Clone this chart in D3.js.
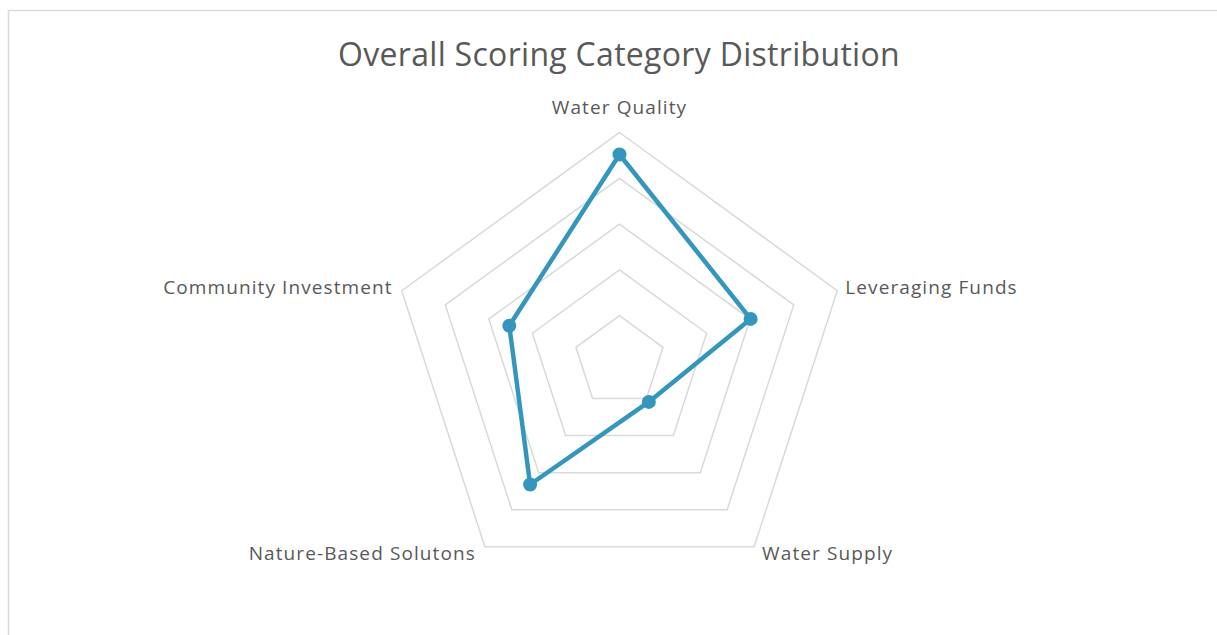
<!DOCTYPE html>
<html lang="en">
<head>
   <meta charset="UTF-8">
   <title>Radar Chart</title>
   <style>
      body {
         margin: 0;
         background: #fff;
      }

      text {
         font-family: 'Open Sans', sans-serif;
         fill: #595959;
      }
   </style>
   <script src="https://cdn.jsdelivr.net/npm/d3@7"></script>
</head>
<body>
   <svg id="chart"></svg>
   <script>
      // data
      const categories = ['Water Quality', 'Leveraging Funds', 'Water Supply', 'Nature-Based Solutons', 'Community Investment']
      const scores = [4.52, 3.01, 1.09, 3.32, 2.53]
      const ringLevels = [1, 2, 3, 4, 5]

      const W = 1217
      const H = 635
      const center = { x: 619.5, y: 361.5 }
      const RADIUS = 229

      const svg = d3.select('#chart')
         .attr('width', W)
         .attr('height', H)

      // frame
      svg.append('rect')
         .attr('x', 8.5)
         .attr('y', 10.5)
         .attr('width', W + 20)
         .attr('height', H + 20)
         .attr('fill', 'none')
         .attr('stroke', '#d9d9d9')
         .attr('stroke-width', 1.5)

      svg.append('text')
         .attr('x', 619)
         .attr('y', 66)
         .attr('text-anchor', 'middle')
         .style('font-size', '32px')
         .style('letter-spacing', '0.3px')
         .text('Overall Scoring Category Distribution')

      const rScale = d3.scaleLinear()
         .domain([0, d3.max(ringLevels)])
         .range([0, RADIUS])

      const angle = d3.scaleBand()
         .domain(categories)
         .range([0, 2 * Math.PI])

      const point = (cat, v) => {
         const a = angle(cat)
         return [Math.sin(a) * rScale(v), -Math.cos(a) * rScale(v)]
      }

      const chart = svg.append('g')
         .attr('transform', `translate(${center.x}, ${center.y})`)

      // grid rings
      const ringLine = d3.line()
      chart.selectAll('.ring')
         .data(ringLevels)
         .enter()
         .append('path')
         .attr('class', 'ring')
         .attr('d', lv => ringLine(categories.map(c => point(c, lv))) + 'Z')
         .attr('fill', 'none')
         .attr('stroke', '#d9d9d9')
         .attr('stroke-width', 1.5)

      // labels
      const maxLv = d3.max(ringLevels)
      chart.selectAll('.label')
         .data(categories)
         .enter()
         .append('text')
         .attr('class', 'label')
         .style('font-size', '19px')
         .style('letter-spacing', '1.1px')
         .attr('x', c => {
            const [x] = point(c, maxLv)
            if (Math.abs(x) < 1) return 0
            return x > 0 ? x + 8 : x - 9
         })
         .attr('y', c => {
            const [, y] = point(c, maxLv)
            if (y < -200) return y - 24
            if (y > 0) return y + 8
            return y - 2
         })
         .attr('text-anchor', c => {
            const [x] = point(c, maxLv)
            if (Math.abs(x) < 1) return 'middle'
            return x > 0 ? 'start' : 'end'
         })
         .attr('dominant-baseline', 'middle')
         .text(c => c)

      // series
      const pts = categories.map((c, i) => point(c, scores[i]))
      chart.append('path')
         .attr('d', d3.line()(pts) + 'Z')
         .attr('fill', 'none')
         .attr('stroke', '#3596bd')
         .attr('stroke-width', 4.5)
         .attr('stroke-linejoin', 'round')

      chart.selectAll('.dot')
         .data(pts)
         .enter()
         .append('circle')
         .attr('class', 'dot')
         .attr('cx', d => d[0])
         .attr('cy', d => d[1])
         .attr('r', 7)
         .attr('fill', '#3596bd')
   </script>
</body>
</html>
